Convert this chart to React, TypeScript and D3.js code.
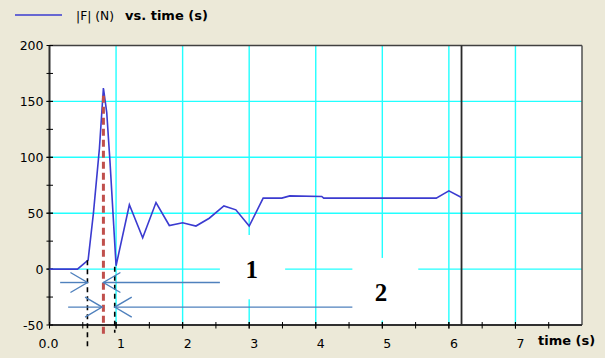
import React, { useEffect, useRef } from "react";
import * as d3 from "d3";

// |F| vs time samples
const times = [0, 0.42, 0.58, 0.66, 0.75, 0.81, 0.86, 0.91, 1.0, 1.2, 1.4, 1.6, 1.8, 2.0, 2.2, 2.4, 2.62, 2.8, 3.0, 3.21, 3.49, 3.61, 4.09, 4.12, 5.81, 6.0, 6.19];
const forces = [0, 0, 8, 50, 108, 162, 140, 95, 3, 57.5, 28, 59.5, 39, 41.5, 38.5, 45.5, 56.5, 53, 38.5, 63.5, 63.5, 65.5, 65, 63.5, 63.5, 70, 64];

const xTicks = [0, 1, 2, 3, 4, 5, 6, 7];
const xTickLabels = ["0.0", "1", "2", "3", "4", "5", "6", "7"];
const xMinorTicks = d3.range(0.5, 8, 0.5);
const yTicks = [-50, 0, 50, 100, 150, 200];
const yTickLabels = ["-50", "0", "50", "100", "150", "200"];
const yMinorTicks = d3.range(-25, 200, 25);
const xGrid = [1, 2, 3, 4, 5, 6, 7];
const yGrid = [0, 50, 100, 150];

const cursorTime = 6.19;
const peakTime = 0.81;
// black dashed markers: [time, top value, bottom value]
const markers = [
  [0.57, 8, -70.5],
  [0.98, 2, -57],
];
// arrows: [tail time, tip time, level]
const arrows = [
  [0.16, 0.57, -12],
  [2.56, 0.81, -12],
  [0.28, 0.79, -34],
  [4.55, 0.98, -34],
];
// white label boxes: [t0, t1, vTop, vBottom]
const boxes = [
  [2.56, 3.54, 30.5, -27],
  [4.55, 5.54, 10, -46],
];
const labels = [
  { text: "1", t: 3.04, v: 0 },
  { text: "2", t: 4.98, v: -20.5 },
];

export default function App() {
  const svgRef = useRef(null);
  const width = 605;
  const height = 358;

  useEffect(() => {
    const svg = d3.select(svgRef.current);
    svg.selectAll("*").remove();

    const left = 49.5, right = 582, top = 45.5, bottom = 325;
    const x = d3.scaleLinear().domain([0, 8]).range([left, right]);
    const y = d3.scaleLinear().domain([-50, 200]).range([bottom, top]);
    const font = "DejaVu Sans, Verdana, sans-serif";
    const blue = "#3b3bd0";

    svg.append("rect").attr("width", width).attr("height", height).attr("fill", "#ece9d8");
    svg.append("rect")
      .attr("x", left).attr("y", top)
      .attr("width", right - left).attr("height", bottom - top)
      .attr("fill", "#fff");

    // legend
    svg.append("line")
      .attr("x1", 15).attr("x2", 62).attr("y1", 15).attr("y2", 15)
      .attr("stroke", blue).attr("stroke-width", 1.5);
    svg.append("text")
      .attr("x", 76).attr("y", 19.5)
      .style("font-family", font).style("font-size", "12.3px")
      .text("|F| (N)");
    svg.append("text")
      .attr("x", 125).attr("y", 19.5)
      .style("font-family", font).style("font-size", "13px").style("font-weight", "bold")
      .text("vs. time (s)");

    // grid
    svg.selectAll(".gx").data(xGrid).enter().append("line")
      .attr("x1", d => x(d)).attr("x2", d => x(d))
      .attr("y1", top).attr("y2", bottom)
      .attr("stroke", "#22ffff").attr("stroke-width", 1.4);
    svg.selectAll(".gy").data(yGrid).enter().append("line")
      .attr("x1", left).attr("x2", right)
      .attr("y1", d => y(d)).attr("y2", d => y(d))
      .attr("stroke", "#22ffff").attr("stroke-width", 1.4);

    // label boxes cover the grid
    svg.selectAll(".box").data(boxes).enter().append("rect")
      .attr("x", d => x(d[0])).attr("width", d => x(d[1]) - x(d[0]))
      .attr("y", d => y(d[2])).attr("height", d => y(d[3]) - y(d[2]))
      .attr("fill", "#fff");

    // frame
    svg.append("line").attr("x1", left).attr("x2", right).attr("y1", top).attr("y2", top)
      .attr("stroke", "#404040").attr("stroke-width", 1.5);
    svg.append("line").attr("x1", right).attr("x2", right).attr("y1", top).attr("y2", bottom)
      .attr("stroke", "#505050").attr("stroke-width", 1.5);
    svg.append("line").attr("x1", left).attr("x2", left).attr("y1", top).attr("y2", bottom)
      .attr("stroke", "#303030").attr("stroke-width", 2);
    svg.append("line").attr("x1", left).attr("x2", right).attr("y1", bottom).attr("y2", bottom)
      .attr("stroke", "#303030").attr("stroke-width", 2);

    // ticks
    svg.selectAll(".tx").data(xTicks.concat(xMinorTicks)).enter().append("line")
      .attr("x1", d => x(d)).attr("x2", d => x(d))
      .attr("y1", bottom - 3).attr("y2", bottom + 3.5)
      .attr("stroke", "#000").attr("stroke-width", 1);
    svg.selectAll(".ty").data(yTicks.concat(yMinorTicks)).enter().append("line")
      .attr("x1", left - 3).attr("x2", left + 3.5)
      .attr("y1", d => y(d)).attr("y2", d => y(d))
      .attr("stroke", "#000").attr("stroke-width", 1);

    svg.selectAll(".lx").data(xTicks).enter().append("text")
      .attr("x", d => x(d) + 9).attr("y", bottom + 23)
      .attr("text-anchor", "end")
      .style("font-family", font).style("font-size", "12.5px")
      .text((d, i) => xTickLabels[i]);
    svg.selectAll(".ly").data(yTicks).enter().append("text")
      .attr("x", 43.5).attr("y", d => y(d))
      .attr("dy", "0.36em")
      .attr("text-anchor", "end")
      .style("font-family", font).style("font-size", "12.5px")
      .text((d, i) => yTickLabels[i]);
    svg.append("text")
      .attr("x", 538).attr("y", 345)
      .style("font-family", font).style("font-size", "13px").style("font-weight", "bold")
      .text("time (s)");

    // cursor
    svg.append("line")
      .attr("x1", x(cursorTime)).attr("x2", x(cursorTime))
      .attr("y1", top).attr("y2", bottom)
      .attr("stroke", "#2a2a2a").attr("stroke-width", 1.8);

    // series
    const line = d3.line<number>().x(d => x(d)).y((d, i) => y(forces[i]));
    svg.append("path")
      .attr("d", line(times))
      .attr("fill", "none")
      .attr("stroke", blue)
      .attr("stroke-width", 1.6);

    // annotations
    svg.selectAll(".mk").data(markers).enter().append("line")
      .attr("x1", d => x(d[0])).attr("x2", d => x(d[0]))
      .attr("y1", d => y(d[1])).attr("y2", d => y(d[2]))
      .attr("stroke", "#000").attr("stroke-width", 1.6)
      .attr("stroke-dasharray", "5,4");
    svg.append("line")
      .attr("x1", x(peakTime)).attr("x2", x(peakTime))
      .attr("y1", y(155)).attr("y2", y(-60))
      .attr("stroke", "#c0504d").attr("stroke-width", 3)
      .attr("stroke-dasharray", "7,4");

    const arrowColor = "#4f81bd";
    arrows.forEach(([t0, t1, v]) => {
      const x0 = x(t0), x1 = x(t1), yy = y(v);
      const dir = Math.sign(x1 - x0);
      svg.append("line")
        .attr("x1", x0).attr("x2", x1).attr("y1", yy).attr("y2", yy)
        .attr("stroke", arrowColor).attr("stroke-width", 1.4);
      svg.append("path")
        .attr("d", `M${x1 - dir * 17},${yy - 10}L${x1},${yy}L${x1 - dir * 17},${yy + 10}`)
        .attr("fill", "none")
        .attr("stroke", arrowColor).attr("stroke-width", 1.4);
    });

    svg.selectAll(".lab").data(labels).enter().append("text")
      .attr("x", d => x(d.t)).attr("y", d => y(d.v))
      .attr("dy", "0.35em")
      .attr("text-anchor", "middle")
      .style("font-family", "Liberation Serif, Times New Roman, serif")
      .style("font-size", "25px").style("font-weight", "bold")
      .text(d => d.text);
  }, []);

  return (
    <svg
      ref={svgRef}
      width={width}
      height={height}
      style={{ position: "absolute", left: 0, top: 0 }}
    ></svg>
  );
}
